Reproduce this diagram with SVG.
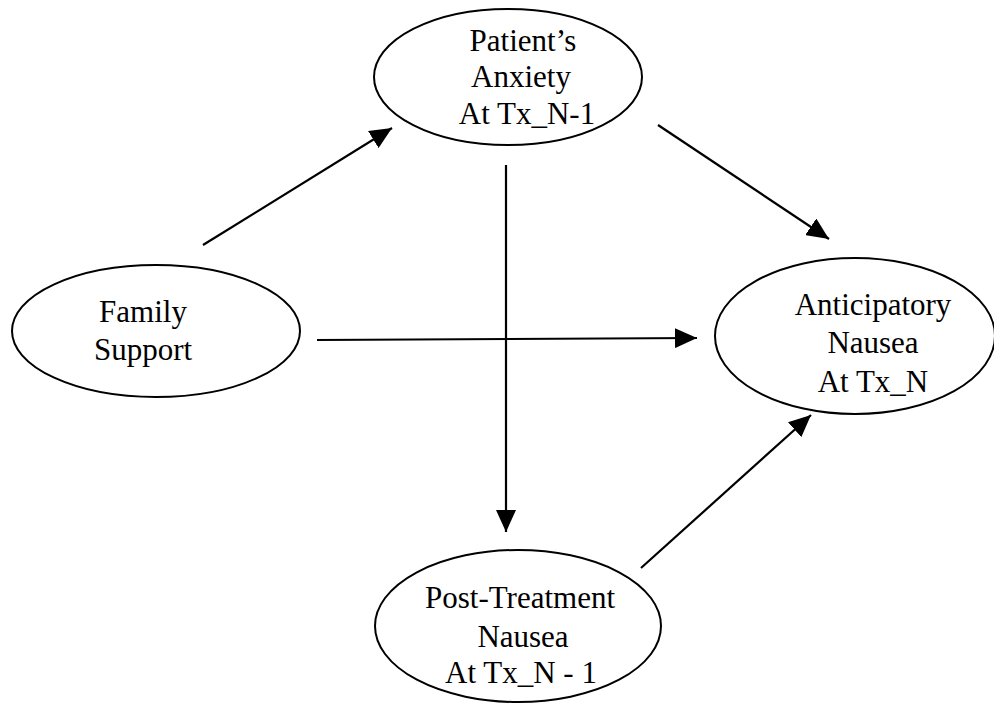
<svg xmlns="http://www.w3.org/2000/svg" width="994" height="703" viewBox="0 0 994 703">
<style>
.node ellipse{fill:none;stroke:#000;stroke-width:2}
.node text{font-family:"Liberation Serif","Times New Roman",serif;font-size:31px;fill:#000;text-anchor:middle}
.edge{stroke:#000;stroke-width:2.2;fill:none;marker-end:url(#ah)}
</style>
<defs>
<marker id="ah" markerUnits="userSpaceOnUse" markerWidth="22" markerHeight="20" refX="22" refY="10" orient="auto">
<path d="M0,0 L22,10 L0,20 z" fill="#000"/>
</marker>
</defs>
<rect width="994" height="703" fill="#fff"/>
<g id="connectors">
<line class="edge" x1="203" y1="245" x2="392" y2="128"/>
<line class="edge" x1="658" y1="125" x2="829" y2="239"/>
<line class="edge" x1="506" y1="165" x2="506" y2="532"/>
<line class="edge" x1="317" y1="340" x2="697" y2="338"/>
<line class="edge" x1="641" y1="568" x2="811" y2="415"/>
</g>
<g id="anxiety" class="node">
<ellipse cx="508" cy="77" rx="134" ry="68"/>
<text x="523" y="51">Patient’s</text>
<text x="521" y="87">Anxiety</text>
<text x="527" y="124">At Tx_N-1</text>
</g>
<g id="family" class="node">
<ellipse cx="156" cy="331" rx="144" ry="66"/>
<text x="143" y="322">Family</text>
<text x="143" y="360">Support</text>
</g>
<g id="anticipatory" class="node">
<ellipse cx="855" cy="336" rx="140" ry="78"/>
<text x="873" y="315">Anticipatory</text>
<text x="873" y="353">Nausea</text>
<text x="873" y="392">At Tx_N</text>
</g>
<g id="posttreatment" class="node">
<ellipse cx="518" cy="626" rx="143" ry="76"/>
<text x="520" y="608">Post-Treatment</text>
<text x="523" y="647">Nausea</text>
<text x="521" y="683">At Tx_N - 1</text>
</g>
</svg>
